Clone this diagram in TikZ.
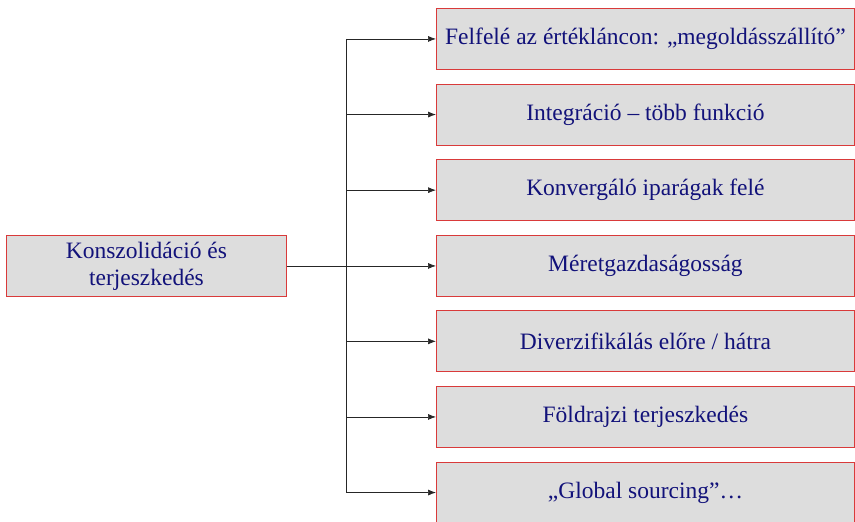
\documentclass[tikz,border=0pt]{standalone}
\usepackage{fontspec}
\setmainfont{Liberation Serif}
\usetikzlibrary{arrows.meta}
\definecolor{boxfill}{HTML}{DDDDDD}
\definecolor{boxline}{HTML}{D93A3A}
\definecolor{txt}{HTML}{12127A}
\begin{document}
\begin{tikzpicture}[x=1pt,y=1pt,
  box/.style={draw=boxline, line width=0.9pt, fill=boxfill, text=txt, font=\fontsize{23.5}{27}\selectfont, align=center, inner sep=0pt, anchor=north west},
  conn/.style={draw=black!85, line width=0.7pt},
  arr/.style={conn, -{Latex[length=8pt,width=6pt]}}]
\useasboundingbox (0,0) rectangle (855,522);
\node[box, minimum width=280, minimum height=61] (src) at (6,287) {Konszolidáció és\\terjeszkedés};
\foreach \i/\t in {1/{Felfelé az értékláncon: „megoldásszállító”},2/{Integráció – több funkció},3/{Konvergáló iparágak felé},4/{Méretgazdaságosság},5/{Diverzifikálás előre / hátra},6/{Földrajzi terjeszkedés},7/{„Global sourcing”…}}{
  \node[box, minimum width=418, minimum height=61] (t\i) at (436,{522-8-(\i-1)*75.6}) {\t};
}
\coordinate (trunkTop) at (346,0 |- t1.west);
\coordinate (trunkBot) at (346,0 |- t7.west);
\draw[conn] (trunkTop) -- (trunkBot);
\draw[arr] (src.east) -- (src.east -| t4.west);
\foreach \i in {1,2,3,5,6,7}{
  \draw[arr] (346,0 |- t\i.west) -- (t\i.west);
}
\end{tikzpicture}
\end{document}
